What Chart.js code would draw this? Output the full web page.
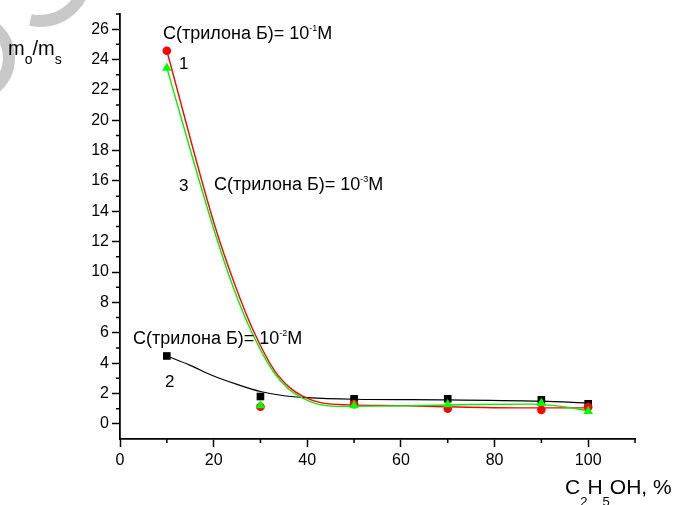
<!DOCTYPE html>
<html>
<head>
<meta charset="utf-8">
<script src="https://cdn.jsdelivr.net/npm/chart.js@4"></script>
<style>
  html, body { margin: 0; padding: 0; background: #fff; }
  #wrap { width: 676px; height: 505px; position: relative; }
</style>
</head>
<body>
<div id="wrap"><canvas id="chart"></canvas></div>
<script>
// measured points: C2H5OH, % -> mo/ms
const ethanol = [10, 30, 50, 70, 90, 100];
const ratio1 = [24.58, 1.12, 1.3, 1.0, 0.92, 1.1];    // 10^-1 M, red circles
const ratio2 = [4.47, 1.8, 1.65, 1.65, 1.58, 1.32];   // 10^-2 M, black squares
const ratio3 = [23.45, 1.21, 1.21, 1.27, 1.36, 0.83]; // 10^-3 M, green triangles

// fitted curves
const curve1X = [10, 20, 24.5, 28.4, 33, 36.2, 39, 43.3, 49, 60, 70, 85, 100];
const curve1Y = [24.58, 13.3, 9.2, 6.2, 3.5, 2.4, 1.82, 1.36, 1.25, 1.2, 1.12, 1.05, 1.05];
const curve2X = [10, 15, 20, 25, 30, 35, 40, 50, 70, 90, 100];
const curve2Y = [4.47, 3.85, 3.15, 2.6, 2.13, 1.85, 1.72, 1.62, 1.58, 1.49, 1.38];
const curve3X = [10, 20, 24.3, 28.2, 32.8, 36, 39, 43, 48, 60, 75, 88, 95, 100];
const curve3Y = [23.45, 12.85, 8.9, 6.0, 3.4, 2.3, 1.7, 1.25, 1.15, 1.18, 1.27, 1.3, 1.12, 0.85];

const xTicks = [0, 20, 40, 60, 80, 100];
const xMinor = [10, 30, 50, 70, 90, 110];
const yTicks = [0, 2, 4, 6, 8, 10, 12, 14, 16, 18, 20, 22, 24, 26];
const yMinor = [1, 3, 5, 7, 9, 11, 13, 15, 17, 19, 21, 23, 25, 27];

const FONT = '"Liberation Sans", Arial, sans-serif';

// text on the plot, anchored in data units
const notes = [
  { x: 9.18, y: 25.33, size: 18, parts: [{ t: 'C(трилона Б)= 10' }, { t: '-1', sup: true }, { t: 'M' }] },
  { x: 12.6, y: 23.35, size: 17, parts: [{ t: '1' }] },
  { x: 12.6, y: 15.36, size: 17, parts: [{ t: '3' }] },
  { x: 20.08, y: 15.4, size: 18, parts: [{ t: 'C(трилона Б)= 10' }, { t: '-3', sup: true }, { t: 'M' }] },
  { x: 2.78, y: 5.24, size: 18, parts: [{ t: 'C(трилона Б)= 10' }, { t: '-2', sup: true }, { t: 'M' }] },
  { x: 9.61, y: 2.4, size: 17, parts: [{ t: '2' }] }
];

function pairs(xs, ys) {
  return xs.map((x, i) => ({ x: x, y: ys[i] }));
}

function drawParts(ctx, parts, x, y, size) {
  parts.forEach(p => {
    let fs = size, dy = 0;
    if (p.sup) { fs = Math.round(size * 0.5); dy = -size * 0.44; }
    if (p.sub) { fs = p.fs || Math.round(size * 0.65); dy = p.dy || size * 0.4; }
    ctx.font = fs + 'px ' + FONT;
    ctx.fillText(p.t, x, y + dy);
    x += ctx.measureText(p.t).width;
  });
}

const decor = {
  id: 'decor',
  beforeDraw(chart) {
    // grey watermark arcs in the corner
    const ctx = chart.ctx;
    ctx.save();
    ctx.strokeStyle = '#c8c8c8';
    ctx.lineWidth = 12;
    ctx.beginPath();
    ctx.arc(40, -25, 46, 0, 1.78);
    ctx.stroke();
    ctx.beginPath();
    ctx.arc(-30, 58, 39, -Math.PI / 2, Math.PI / 2);
    ctx.stroke();
    ctx.restore();
  },
  afterDraw(chart) {
    const ctx = chart.ctx;
    const xs = chart.scales.x, ys = chart.scales.y;
    ctx.save();
    // minor ticks
    ctx.strokeStyle = '#000';
    ctx.lineWidth = 1.5;
    ctx.beginPath();
    xMinor.forEach(v => {
      const px = xs.getPixelForValue(v);
      ctx.moveTo(px, xs.top);
      ctx.lineTo(px, xs.top + 4);
    });
    yMinor.forEach(v => {
      const py = ys.getPixelForValue(v);
      ctx.moveTo(ys.right, py);
      ctx.lineTo(ys.right - 4, py);
    });
    ctx.stroke();

    ctx.fillStyle = '#000';
    ctx.textBaseline = 'alphabetic';
    ctx.textAlign = 'left';
    notes.forEach(n => {
      drawParts(ctx, n.parts, xs.getPixelForValue(n.x), ys.getPixelForValue(n.y), n.size);
    });

    // axis titles
    drawParts(ctx, [
      { t: 'm' }, { t: 'o', sub: true, fs: 14, dy: 9 }, { t: '/m' }, { t: 's', sub: true, fs: 14, dy: 9 }
    ], 8, 55, 20);
    drawParts(ctx, [
      { t: 'C' }, { t: '2', sub: true, fs: 13, dy: 12 }, { t: 'H' }, { t: '5', sub: true, fs: 13, dy: 12 }, { t: 'OH, %' }
    ], 565, 494, 21);
    ctx.restore();
  }
};

Chart.defaults.font.family = FONT;
Chart.defaults.font.size = 16;
Chart.defaults.color = '#000';

new Chart(document.getElementById('chart'), {
  type: 'scatter',
  data: {
    datasets: [
      { data: pairs(ethanol, ratio3), showLine: false, pointStyle: 'triangle', pointRadius: 5.5,
        backgroundColor: '#00ff00', borderColor: '#00ff00', borderWidth: 0, order: 0 },
      { data: pairs(ethanol, ratio1), showLine: false, pointStyle: 'circle', pointRadius: 4.3,
        backgroundColor: '#ff0000', borderColor: '#ff0000', borderWidth: 0, order: 1 },
      { data: pairs(ethanol, ratio2), showLine: false, pointStyle: 'rect', pointRadius: 5.4,
        backgroundColor: '#000000', borderColor: '#000000', borderWidth: 0, order: 2 },
      { data: pairs(curve3X, curve3Y), showLine: true, pointRadius: 0, borderColor: '#00ee00',
        borderWidth: 1.4, cubicInterpolationMode: 'monotone', order: 3 },
      { data: pairs(curve1X, curve1Y), showLine: true, pointRadius: 0, borderColor: '#ff0000',
        borderWidth: 1.4, cubicInterpolationMode: 'monotone', order: 4 },
      { data: pairs(curve2X, curve2Y), showLine: true, pointRadius: 0, borderColor: '#000000',
        borderWidth: 1.2, cubicInterpolationMode: 'monotone', order: 5 }
    ]
  },
  options: {
    responsive: true,
    maintainAspectRatio: false,
    animation: false,
    layout: { padding: { left: 0, right: 41, top: 14, bottom: 0 } },
    plugins: { legend: { display: false }, tooltip: { enabled: false } },
    scales: {
      x: {
        type: 'linear', min: 0, max: 110,
        afterBuildTicks: axis => { axis.ticks = xTicks.map(v => ({ value: v })); },
        afterFit: axis => { axis.height = 66; },
        ticks: { padding: 4, font: { size: 16 } },
        grid: { drawOnChartArea: false, tickLength: 8, tickColor: '#000', tickWidth: 1.5 },
        border: { color: '#000', width: 1.8 }
      },
      y: {
        type: 'linear', min: -1, max: 27,
        afterBuildTicks: axis => { axis.ticks = yTicks.map(v => ({ value: v })); },
        afterFit: axis => { axis.width = 120; },
        ticks: { padding: 3, font: { size: 16 } },
        grid: { drawOnChartArea: false, tickLength: 8, tickColor: '#000', tickWidth: 1.5 },
        border: { color: '#000', width: 1.8 }
      }
    }
  },
  plugins: [decor]
});
</script>
</body>
</html>
